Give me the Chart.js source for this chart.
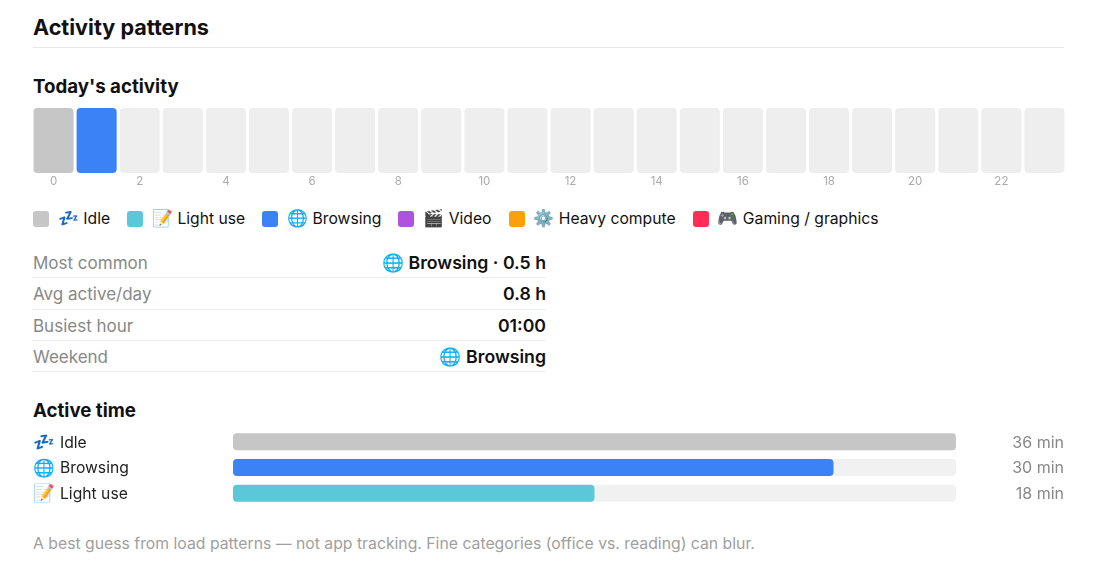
<!DOCTYPE html>
<html>
<head>
<meta charset="utf-8">
<script src="https://cdn.jsdelivr.net/npm/chart.js@4/dist/chart.umd.min.js"></script>
<style>
  html, body { margin: 0; background: #fff; }
  body { width: 1100px; height: 566px; position: relative; overflow: hidden;
    font-family: Inter, "Noto Sans", "Noto Color Emoji", sans-serif; color: #111; }
  h1 { position: absolute; left: 33px; top: 12px; margin: 0; font-size: 21.6px; line-height: 30px; font-weight: 700; }
  .rule { position: absolute; left: 33px; width: 1031px; top: 47px; height: 1px; background: #e8e8e8; }
  h2 { position: absolute; left: 33px; margin: 0; font-size: 18.7px; line-height: 26px; font-weight: 700; }
  #legend { position: absolute; left: 33px; top: 206px; display: flex; gap: 17px; font-size: 15.7px; line-height: 24px; }
  #legend .item { display: flex; align-items: center; }
  #legend .swatch { width: 16px; height: 16px; border-radius: 3px; margin-right: 9px; }
  #legend .icon { font-size: 16.8px; }
  #stats { position: absolute; left: 33px; top: 247px; width: 513px; font-size: 17px; }
  #stats .row { display: flex; justify-content: space-between; height: 30.3px; line-height: 32.5px; border-bottom: 1px solid #eee; }
  #stats .k { color: #888; }
  #stats .v { font-weight: 600; font-size: 17.7px; }
  #note { position: absolute; left: 33px; top: 533px; font-size: 15.78px; line-height: 22px; color: #a0a0a0; white-space: nowrap; }
  #hours { position: absolute; left: 32px; top: 108px; }
  #active { position: absolute; left: 33px; top: 429px; }
</style>
</head>
<body>
<h1>Activity patterns</h1>
<div class="rule"></div>
<h2 style="top:74px">Today's activity</h2>
<canvas id="hours" width="1034" height="84"></canvas>
<div id="legend"></div>
<div id="stats"></div>
<h2 style="top:398px">Active time</h2>
<canvas id="active" width="1031" height="77"></canvas>
<div id="note">A best guess from load patterns — not app tracking. Fine categories (office vs. reading) can blur.</div>
<script>
const hourLabels = ["0","1","2","3","4","5","6","7","8","9","10","11","12","13","14","15","16","17","18","19","20","21","22","23"];
const hourStates = ["idle","browsing",null,null,null,null,null,null,null,null,null,null,null,null,null,null,null,null,null,null,null,null,null,null];

const stateKeys = ["idle","light","browsing","video","heavy","gaming"];
const stateNames = ["Idle","Light use","Browsing","Video","Heavy compute","Gaming / graphics"];
const stateIcons = ["💤","📝","🌐","🎬","⚙️","🎮"];
const stateColors = ["#c6c6c6","#5ac8d8","#3b82f6","#af52de","#ff9f0a","#ff2d55"];

const statKeys = ["Most common","Avg active/day","Busiest hour","Weekend"];
const statValues = ["🌐 Browsing · 0.5 h","0.8 h","01:00","🌐 Browsing"];

const activeNames = ["Idle","Browsing","Light use"];
const activeIcons = ["💤","🌐","📝"];
// the labels below are the rounded values
const activeMinutes = [36,29.9,18];
const activeColors = ["#c6c6c6","#3b82f6","#5ac8d8"];
const activeText = ["36 min","30 min","18 min"];

const fontFamily = 'Inter, "Noto Sans", "Noto Color Emoji", sans-serif';

document.getElementById("legend").innerHTML = stateNames.map((name, i) =>
  `<div class="item"><span class="swatch" style="background:${stateColors[i]}"></span><span><span class="icon">${stateIcons[i]}</span> ${name}</span></div>`
).join("");
document.getElementById("stats").innerHTML = statKeys.map((k, i) =>
  `<div class="row"><span class="k">${k}</span><span class="v">${statValues[i]}</span></div>`
).join("");

// emoji sit left of the y tick labels, they need a bigger font than the text
const rowIcons = {
  id: "rowIcons",
  afterDraw(chart) {
    const { ctx, scales } = chart;
    ctx.save();
    ctx.font = `17.5px ${fontFamily}`;
    ctx.textBaseline = "middle";
    activeIcons.forEach((icon, i) => ctx.fillText(icon, 0, scales.y.getPixelForTick(i) + 1));
    ctx.restore();
  },
};

// y axes reserve half a label above and below by default, the rows need the full height
const fitRow = (width) => (s) => {
  s.width = width;
  s.paddingTop = 0;
  s.paddingBottom = 0;
};

new Chart(document.getElementById("hours"), {
  type: "bar",
  data: {
    labels: hourLabels,
    datasets: [{
      data: hourStates.map(() => 1),
      backgroundColor: hourStates.map((s) => s ? stateColors[stateKeys.indexOf(s)] : "#eeeeee"),
      borderRadius: 4,
      borderSkipped: false,
      categoryPercentage: 1,
      barPercentage: 0.93,
    }],
  },
  options: {
    responsive: false,
    animation: false,
    layout: { padding: 0, autoPadding: false },
    plugins: { legend: { display: false }, tooltip: { enabled: false } },
    scales: {
      x: {
        grid: { display: false, drawTicks: false, tickLength: 0 },
        border: { display: false },
        ticks: {
          autoSkip: false,
          maxRotation: 0,
          padding: 2,
          color: "#aaaaaa",
          font: { family: fontFamily, size: 11.5 },
          callback: (v, i) => (i % 2 === 0 ? hourLabels[i] : ""),
        },
        afterFit: (s) => { s.height = 19; },
      },
      y: { display: false, min: 0, max: 1 },
    },
  },
});

new Chart(document.getElementById("active"), {
  type: "bar",
  plugins: [rowIcons],
  data: {
    labels: activeNames,
    datasets: [
      {
        data: activeMinutes,
        backgroundColor: activeColors,
        borderRadius: 4,
        borderSkipped: false,
        grouped: false,
        order: 1,
        categoryPercentage: 1,
        barPercentage: 0.66,
      },
      {
        data: activeMinutes.map(() => activeMinutes[0]),
        backgroundColor: "#f1f1f1",
        borderRadius: 4,
        borderSkipped: false,
        grouped: false,
        order: 2,
        categoryPercentage: 1,
        barPercentage: 0.66,
      },
    ],
  },
  options: {
    indexAxis: "y",
    responsive: false,
    animation: false,
    layout: { padding: { left: 27 }, autoPadding: false },
    plugins: { legend: { display: false }, tooltip: { enabled: false } },
    scales: {
      x: { display: false, min: 0, max: activeMinutes[0] },
      y: {
        position: "left",
        grid: { display: false, drawTicks: false, tickLength: 0 },
        border: { display: false },
        ticks: { autoSkip: false, crossAlign: "far", padding: 0, labelOffset: 1, color: "#222222", font: { family: fontFamily, size: 15.7 } },
        afterFit: fitRow(173),
      },
      y2: {
        type: "category",
        labels: activeText,
        offset: true,
        position: "right",
        grid: { display: false, drawTicks: false, tickLength: 0 },
        border: { display: false },
        ticks: { autoSkip: false, crossAlign: "far", padding: 0, labelOffset: 1, color: "#888888", font: { family: fontFamily, size: 16 } },
        afterFit: fitRow(108),
      },
    },
  },
});
</script>
</body>
</html>
